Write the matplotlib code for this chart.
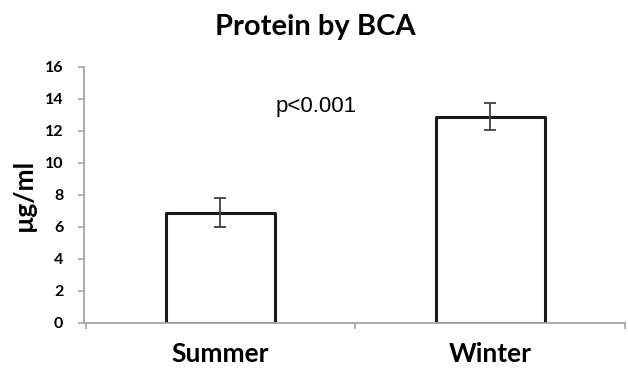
import matplotlib
matplotlib.use("Agg")
import matplotlib.pyplot as plt

# --- Data ---
seasons = ["Summer", "Winter"]
protein = [6.9, 12.9]      # µg/ml
protein_err = [0.9, 0.85]
y_ticks = [0, 2, 4, 6, 8, 10, 12, 14, 16]
p_label = "p<0.001"

axis_grey = "#a6a6a6"

fig = plt.figure(figsize=(6.28, 3.76), dpi=100)
ax = fig.add_axes([0.134, 0.141, 0.862, 0.681])

x = range(len(seasons))
bars = ax.bar(x, protein, width=0.404, color="white", edgecolor="#1a1a1a",
              linewidth=2.2, zorder=2)
for b in bars:
    b.set_joinstyle("round")
ax.errorbar(x, protein, yerr=protein_err, fmt="none", ecolor="#404040",
            elinewidth=1.3, capsize=4, capthick=1.3, zorder=3)

ax.set_xlim(-0.505, 1.47)
ax.set_ylim(0, 16)
ax.set_yticks(y_ticks)
ax.set_yticklabels([str(t) for t in y_ticks], fontfamily="Lato",
                   fontweight="bold", fontsize=11.5)

# category boundary ticks on the x axis, labels in the middle
ax.set_xticks([-0.5, 0.5, 1.5])
ax.set_xticklabels([])
ax.set_xticks(list(x), minor=True)
ax.set_xticklabels(seasons, minor=True, fontfamily="Lato",
                   fontweight="bold", fontsize=19)
ax.tick_params(axis="x", which="minor", length=0, pad=14)
ax.tick_params(axis="x", which="major", length=4, color=axis_grey, width=1.2)
ax.tick_params(axis="y", length=4, color=axis_grey, width=1.2, pad=11)

for side in ["top", "right"]:
    ax.spines[side].set_visible(False)
for side in ["left", "bottom"]:
    ax.spines[side].set_color(axis_grey)
    ax.spines[side].set_linewidth(1.3)

ax.set_ylabel("µg/ml", fontfamily="Lato", fontweight="bold", fontsize=19,
              labelpad=6)

ax.text(0.355, 13.55, p_label, fontfamily="Liberation Sans", fontsize=16,
        ha="center", va="center")

fig.text(0.502, 0.928, "Protein by BCA", fontfamily="Lato", fontweight="bold",
         fontsize=21, ha="center", va="center")

fig.savefig("out.png", dpi=100)
